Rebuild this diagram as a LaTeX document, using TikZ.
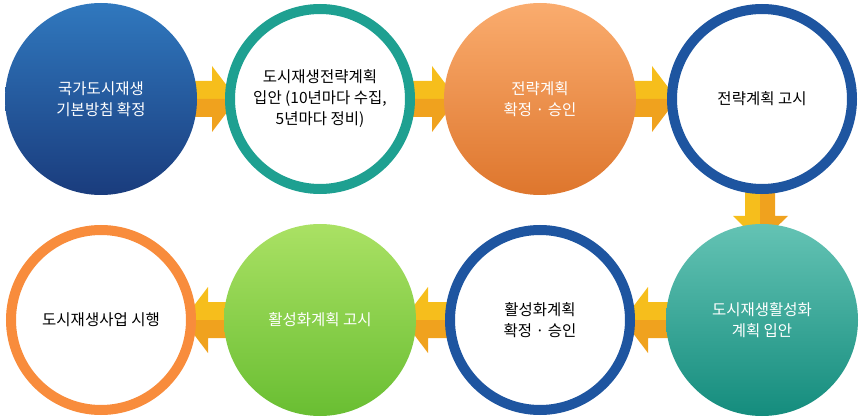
\documentclass[tikz,border=0pt]{standalone}
\usepackage{fontspec}
\setmainfont{Noto Sans CJK KR}
\begin{document}
\begin{tikzpicture}[x=1pt,y=-1pt,
  ring/.style={circle,minimum size=180pt,line width=10pt,fill=white,align=center,font=\fontsize{15.5}{21}\selectfont},
  full/.style={circle,minimum size=192pt,align=center,text=white,font=\fontsize{15.5}{21}\selectfont}]
\useasboundingbox (0,0) rectangle (863,417);
\definecolor{ta}{HTML}{F6BE1C}\definecolor{tb}{HTML}{F0A21E}
\newcommand{\rarr}[3]{% x start, y, dir (1 right, -1 left)
 \begin{scope}[shift={(#1,#2)},xscale=#3]
 \fill[ta] (0,-18) -- (22,-18) -- (22,-33) -- (47,0) -- (0,0) -- cycle;
 \fill[tb] (0,18) -- (22,18) -- (22,33) -- (47,0) -- (0,0) -- cycle;
 \end{scope}}
\rarr{190}{99}{1}
\rarr{410}{99}{1}
\rarr{630}{99}{1}
\rarr{670}{320}{-1}
\rarr{450}{320}{-1}
\rarr{230}{320}{-1}
\fill[ta] (745,190) -- (760,190) -- (760,243) -- (733,216) -- (745,216) -- cycle;
\fill[tb] (775,190) -- (760,190) -- (760,243) -- (788,216) -- (775,216) -- cycle;
\node[full,top color={rgb,255:red,48;green,120;blue,190},bottom color={rgb,255:red,26;green,60;blue,125}] (a) at (101,99) {국가도시재생\\기본방침 확정};
\node[ring,draw={rgb,255:red,30;green,160;blue,145}] (b) at (320,99) {도시재생전략계획\\입안 (10년마다 수집,\\5년마다 정비)};
\node[full,top color={rgb,255:red,250;green,172;blue,110},bottom color={rgb,255:red,222;green,118;blue,45}] (c) at (540,99) {전략계획\\확정 · 승인};
\node[ring,draw={rgb,255:red,30;green,85;blue,160}] (d) at (762,99) {전략계획 고시};
\node[full,top color={rgb,255:red,100;green,195;blue,180},bottom color={rgb,255:red,20;green,140;blue,125}] (e) at (762,320) {도시재생활성화\\계획 입안};
\node[ring,draw={rgb,255:red,30;green,85;blue,160}] (f) at (540,320) {활성화계획\\확정 · 승인};
\node[full,top color={rgb,255:red,170;green,225;blue,100},bottom color={rgb,255:red,105;green,190;blue,50}] (g) at (320,320) {활성화계획 고시};
\node[ring,draw={rgb,255:red,248;green,140;blue,60}] (h) at (101,320) {도시재생사업 시행};
\end{tikzpicture}
\end{document}
